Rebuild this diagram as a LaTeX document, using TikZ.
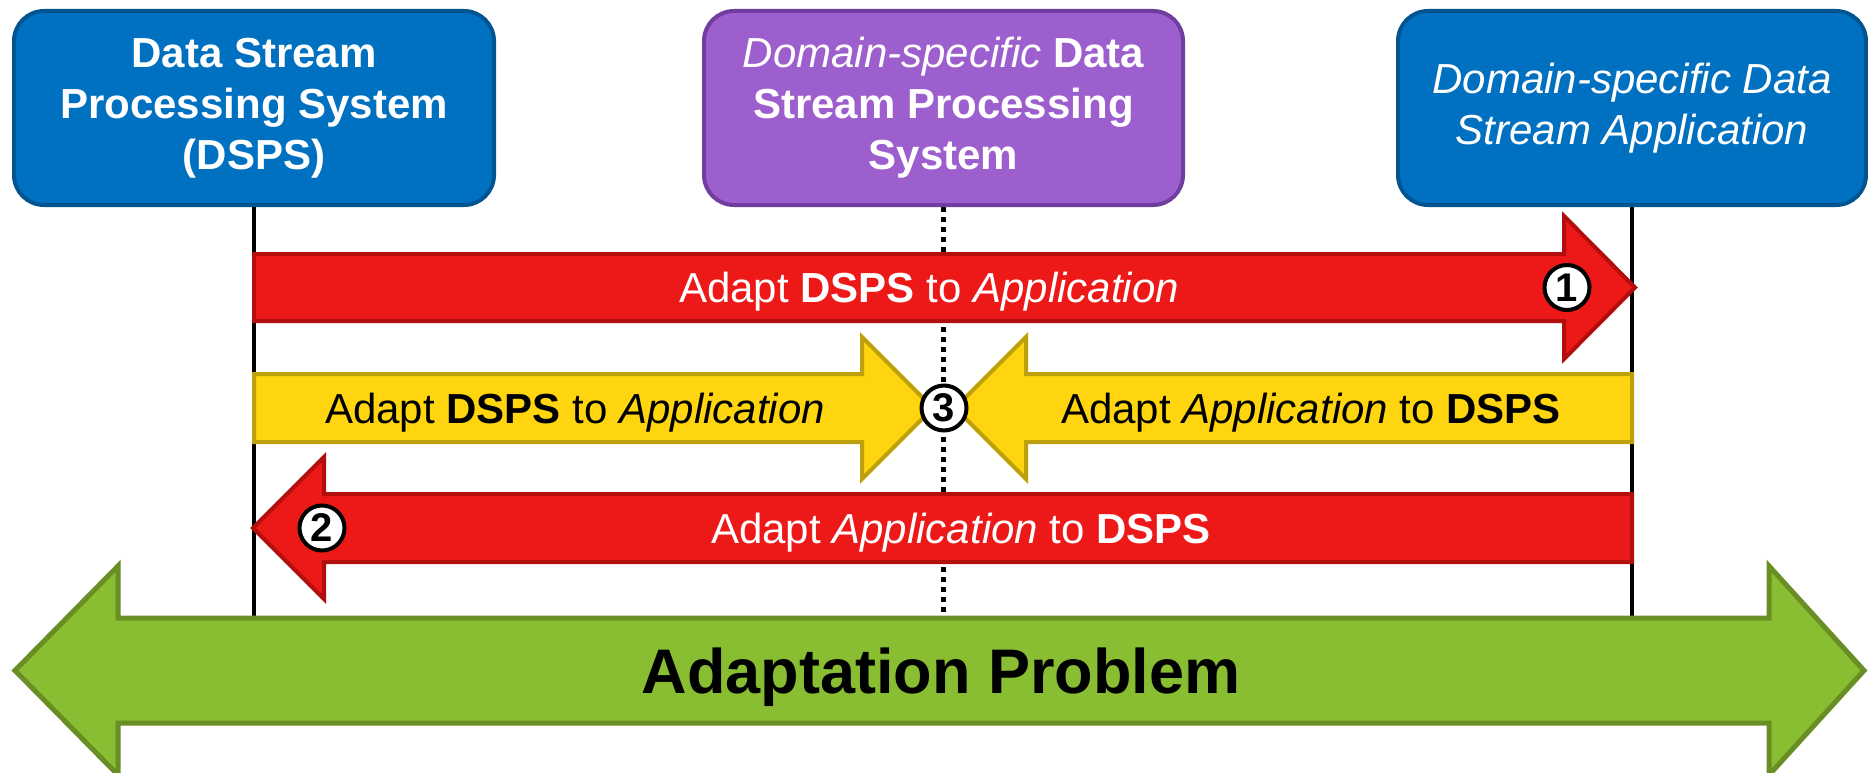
\documentclass[tikz,border=0pt]{standalone}
\usepackage{fontspec}
\setmainfont{Liberation Sans}
\definecolor{boxblue}{RGB}{0,112,192}
\definecolor{boxblueline}{RGB}{0,84,146}
\definecolor{boxpurple}{RGB}{158,95,206}
\definecolor{boxpurpleline}{RGB}{112,62,158}
\definecolor{arrred}{RGB}{237,25,25}
\definecolor{arrredline}{RGB}{178,14,14}
\definecolor{arryellow}{RGB}{255,213,15}
\definecolor{arryellowline}{RGB}{190,160,10}
\definecolor{arrgreen}{RGB}{138,190,50}
\definecolor{arrgreenline}{RGB}{104,142,36}
\pgfdeclarelayer{background}
\pgfsetlayers{background,main}
\tikzset{
  box/.style={draw, line width=4pt, rounded corners=30pt, text=white, align=center,
    font=\fontsize{42}{51}\selectfont, minimum height=194pt, inner sep=0pt},
  bluebox/.style={box, fill=boxblue, draw=boxblueline},
  purplebox/.style={box, fill=boxpurple, draw=boxpurpleline},
  lifeline/.style={line width=3.5pt, draw=black},
  midline/.style={line width=5pt, draw=black, dash pattern=on 5pt off 5pt},
  redarrow/.style={fill=arrred, draw=arrredline, line width=4pt, line join=miter},
  yellowarrow/.style={fill=arryellow, draw=arryellowline, line width=4pt, line join=miter},
  greenarrow/.style={fill=arrgreen, draw=arrgreenline, line width=5pt, line join=miter},
  num/.style={circle, draw=black, fill=white, line width=4pt, minimum size=45pt,
    inner sep=0pt, font=\fontsize{40}{40}\selectfont\bfseries},
  rowlabel/.style={font=\fontsize{42}{50}\selectfont, inner sep=0pt, anchor=base}
}
\begin{document}
\begin{tikzpicture}[x=1pt, y=-1pt]
  \useasboundingbox (0,0) rectangle (1868,773);

  % participants
  \node[bluebox, minimum width=480pt] (dsps) at (254,108)
    {\bfseries Data Stream\\\bfseries Processing System\\\bfseries (DSPS)};
  \node[purplebox, minimum width=479pt] (dsdsps) at (943.5,108)
    {{\itshape Domain-specific} \bfseries Data\\\bfseries Stream Processing\\\bfseries System};
  \node[bluebox, minimum width=468pt] (app) at (1632,108)
    {\itshape Domain-specific Data\\\itshape Stream Application};

  % lifelines down to the adaptation arrow
  \coordinate (gtop) at (0,618);
  \begin{pgfonlayer}{background}
    \draw[lifeline] (dsps.south) -- (dsps.south |- gtop);
    \draw[midline] (dsdsps.south) -- (dsdsps.south |- gtop);
    \draw[lifeline] (app.south) -- (app.south |- gtop);
  \end{pgfonlayer}

  % (1) adapt the DSPS to the application
  \draw[redarrow] (254,254) -- (1564,254) -- (1564,216) -- (1635,287.5)
    -- (1564,359) -- (1564,321) -- (254,321) -- cycle;
  \node[rowlabel, text=white] (t1) at (929,302.5)
    {Adapt \textbf{DSPS} to \textit{Application}};
  \node[num] (n1) at (1567,287.5) {1};

  % (3) meet in the middle
  \draw[yellowarrow] (254,374) -- (862,374) -- (862,337) -- (933,408)
    -- (862,479) -- (862,442) -- (254,442) -- cycle;
  \draw[yellowarrow] (1632,374) -- (1026,374) -- (1026,337) -- (955,408)
    -- (1026,479) -- (1026,442) -- (1632,442) -- cycle;
  \node[rowlabel] (t3a) at (575,423) {Adapt \textbf{DSPS} to \textit{Application}};
  \node[rowlabel] (t3b) at (1311,423) {Adapt \textit{Application} to \textbf{DSPS}};
  \node[num] (n3) at (944,408) {3};

  % (2) adapt the application to the DSPS
  \draw[redarrow] (1632,494) -- (324,494) -- (324,457) -- (253,528)
    -- (324,599) -- (324,562) -- (1632,562) -- cycle;
  \node[rowlabel, text=white] (t2) at (961,543)
    {Adapt \textit{Application} to \textbf{DSPS}};
  \node[num] (n2) at (322,528) {2};

  % the adaptation problem spanning the whole range
  \draw[greenarrow] (118,618) -- (1769,618) -- (1769,566) -- (1864,670.5)
    -- (1769,775) -- (1769,723) -- (118,723) -- (118,775) -- (15,670.5)
    -- (118,566) -- cycle;
  \node[font=\fontsize{63}{63}\selectfont\bfseries, inner sep=0pt, anchor=base] (prob)
    at (941,693) {Adaptation Problem};
\end{tikzpicture}
\end{document}
